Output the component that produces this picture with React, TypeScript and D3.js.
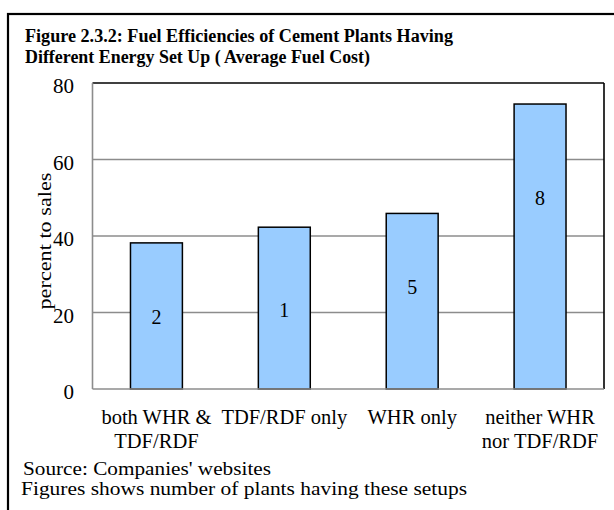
import React from "react";
import * as d3 from "d3";

// Chart data
const categories: string[][] = [
  ["both WHR &", "TDF/RDF"],
  ["TDF/RDF only"],
  ["WHR only"],
  ["neither WHR", "nor TDF/RDF"],
];
const fuelCost: number[] = [38.2, 42.3, 45.9, 74.5];
const plantCounts: string[] = ["2", "1", "5", "8"];
// value level at which each plant-count label sits inside its bar
const countLabelAt: number[] = [18.8, 20.6, 26.7, 50];
const yTicks: number[] = [0, 20, 40, 60, 80];

const titleLines = [
  "Figure 2.3.2:  Fuel Efficiencies of Cement Plants Having",
  "Different Energy Set Up ( Average Fuel Cost)",
];
const footerLines = [
  "Source: Companies' websites",
  "Figures shows number of plants having these setups",
];

const W = 614;
const H = 510;
const plot = { left: 92.5, right: 604, top: 83, bottom: 389 };
const FONT = "'Liberation Serif', 'Times New Roman', serif";

export default function App() {
  const x = d3
    .scaleBand<number>()
    .domain(d3.range(categories.length))
    .range([plot.left, plot.right])
    .paddingInner(0.594)
    .paddingOuter(0.297);
  const y = d3.scaleLinear().domain([0, 80]).range([plot.bottom, plot.top]);

  return (
    <svg
      width={W}
      height={H}
      style={{ position: "absolute", left: 0, top: 0, background: "#fff" }}
      fontFamily={FONT}
    >
      <rect x={0} y={0} width={W} height={H} fill="#fff" />
      {/* outer frame */}
      <rect x={8} y={14} width={W} height={H} fill="none" stroke="#000" strokeWidth={2.2} />

      {/* title */}
      {titleLines.map((t, i) => (
        <text
          key={i}
          x={25}
          y={42 + i * 20.5}
          fontSize={18}
          fontWeight="bold"
          textLength={i === 0 ? 428 : 345}
          lengthAdjust="spacingAndGlyphs"
        >
          {t}
        </text>
      ))}

      {/* gridlines */}
      {yTicks
        .filter((t) => t > 0 && t < 80)
        .map((t) => (
          <line
            key={t}
            x1={plot.left}
            x2={plot.right}
            y1={y(t)}
            y2={y(t)}
            stroke="#8c8c8c"
            strokeWidth={1.4}
          />
        ))}

      {/* plot frame: top/right black, left/bottom grey axes */}
      <line x1={plot.left} x2={plot.right} y1={plot.top} y2={plot.top} stroke="#000" strokeWidth={1.6} />
      <line x1={plot.right} x2={plot.right} y1={plot.top} y2={plot.bottom} stroke="#000" strokeWidth={1.6} />

      {/* bars */}
      {fuelCost.map((v, i) => (
        <rect
          key={i}
          x={x(i)!}
          y={y(v)}
          width={x.bandwidth()}
          height={y(0) - y(v)}
          fill="#99ccff"
          stroke="#000"
          strokeWidth={1.5}
        />
      ))}

      <line x1={plot.left} x2={plot.left} y1={plot.top} y2={plot.bottom} stroke="#8c8c8c" strokeWidth={1.6} />
      <line x1={plot.left} x2={plot.right} y1={plot.bottom} y2={plot.bottom} stroke="#8c8c8c" strokeWidth={1.6} />

      {/* plant count labels */}
      {plantCounts.map((c, i) => (
        <text
          key={i}
          x={x(i)! + x.bandwidth() / 2}
          y={y(countLabelAt[i])}
          dy="0.35em"
          textAnchor="middle"
          fontSize={20}
        >
          {c}
        </text>
      ))}

      {/* y tick labels */}
      {yTicks.map((t) => (
        <text key={t} x={74} y={y(t) + 3} dy="0.35em" textAnchor="end" fontSize={21}>
          {t}
        </text>
      ))}

      {/* y axis title */}
      <text
        transform={`translate(44, 241) rotate(-90)`}
        dy="0.35em"
        textAnchor="middle"
        fontSize={19}
        textLength={137}
        lengthAdjust="spacingAndGlyphs"
      >
        percent to sales
      </text>

      {/* category labels */}
      {categories.map((lines, i) =>
        lines.map((l, j) => (
          <text
            key={`${i}-${j}`}
            x={x(i)! + x.bandwidth() / 2}
            y={424 + j * 24}
            textAnchor="middle"
            fontSize={20.5}
          >
            {l}
          </text>
        ))
      )}

      {/* footer */}
      {footerLines.map((t, i) => (
        <text
          key={i}
          x={i === 0 ? 23 : 21}
          y={475 + i * 20}
          fontSize={18.5}
          textLength={i === 0 ? 248 : 446}
          lengthAdjust="spacingAndGlyphs"
        >
          {t}
        </text>
      ))}
    </svg>
  );
}
